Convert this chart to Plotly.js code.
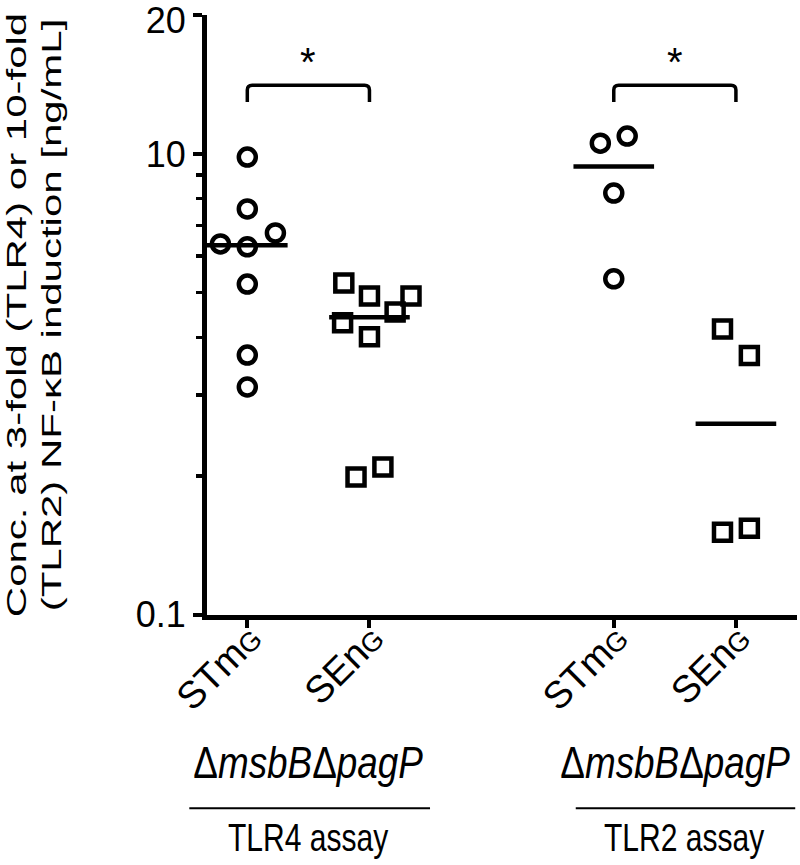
<!DOCTYPE html>
<html>
<head>
<meta charset="utf-8">
<script src="https://cdn.plot.ly/plotly-3.0.1.min.js"></script>
<style>
html,body{margin:0;padding:0;background:#fff;}
#chart{width:800px;height:865px;}
</style>
</head>
<body>
<div id="chart"></div>
<script>
// Group positions and labels
var groupPos = [1, 2, 4, 5];
var groupLabels = ["STm", "SEn", "STm", "SEn"];
var groupSuffix = ["G", "G", "G", "G"];

// Values (ng/mL)
var tlr4_STm = [9.85, 7.6, 6.74, 6.38, 6.29, 5.22, 3.66, 3.12];
var tlr4_STm_jit = [0, 0, 0.23, -0.22, 0, 0, 0, 0];
var tlr4_SEn = [5.25, 4.92, 4.92, 4.54, 4.30, 4.01, 2.09, 1.99];
var tlr4_SEn_jit = [-0.21, 0, 0.34, 0.21, -0.22, 0, 0.11, -0.11];
var tlr2_STm = [10.56, 10.94, 8.23, 5.36];
var tlr2_STm_jit = [-0.11, 0.11, 0, 0];
var tlr2_SEn = [4.17, 3.65, 1.51, 1.54];
var tlr2_SEn_jit = [-0.11, 0.11, -0.11, 0.11];

// y axis ticks
var yTickVals = [1, 10, 20];
var yTickText = ["0.1", "10", "20"];
var yMinorVals = [2, 3, 4, 5, 6, 7, 8, 9];

var series = [
  {v: tlr4_STm, j: tlr4_STm_jit, sym: "circle-open"},
  {v: tlr4_SEn, j: tlr4_SEn_jit, sym: "square-open"},
  {v: tlr2_STm, j: tlr2_STm_jit, sym: "circle-open"},
  {v: tlr2_SEn, j: tlr2_SEn_jit, sym: "square-open"}
];

function median(a){
  var s = a.slice().sort(function(p,q){return p-q;});
  var n = s.length;
  return n % 2 ? s[(n-1)/2] : (s[n/2-1] + s[n/2]) / 2;
}

var traces = [];
series.forEach(function(s, i){
  traces.push({
    type: "scatter", mode: "markers",
    x: s.v.map(function(_, k){ return groupPos[i] + s.j[k]; }),
    y: s.v,
    marker: {symbol: s.sym, size: 17, color: "#000",
             line: {width: 4.5, color: "#000"}},
    hoverinfo: "y", showlegend: false
  });
  var m = median(s.v);
  traces.push({
    type: "scatter", mode: "lines",
    x: [groupPos[i] - 0.33, groupPos[i] + 0.33],
    y: [m, m],
    line: {color: "#000", width: 4.5},
    hoverinfo: "skip", showlegend: false
  });
});

var F = "Liberation Sans, Arial, sans-serif";
var tickText = groupLabels.map(function(l, i){
  return l + '<span style="font-size:27px">' + groupSuffix[i] + '</span>';
});

var shapes = [];
[[1, 2], [4, 5]].forEach(function(p){
  shapes.push({type: "path", xref: "x", yref: "paper",
    path: "M" + p[0] + ",0.855 L" + p[0] + ",0.875 Q" + p[0] + ",0.883 " + (p[0] + 0.04) + ",0.883 L" + (p[1] - 0.04) + ",0.883 Q" + p[1] + ",0.883 " + p[1] + ",0.875 L" + p[1] + ",0.855",
    line: {color: "#000", width: 3.5}});
});
shapes.push({type: "line", xref: "paper", yref: "paper", x0: -0.03, x1: 0.378, y0: -0.322, y1: -0.322, line: {color: "#000", width: 2}});
shapes.push({type: "line", xref: "paper", yref: "paper", x0: 0.625, x1: 0.997, y0: -0.322, y1: -0.322, line: {color: "#000", width: 2}});

var annotations = [
  {x: 1.5, y: 0.962, xref: "x", yref: "paper", text: "*", showarrow: false, font: {family: F, size: 40, color: "#000"}},
  {x: 4.5, y: 0.962, xref: "x", yref: "paper", text: "*", showarrow: false, font: {family: F, size: 40, color: "#000"}},
  {x: 1.5, y: -0.292, xref: "x", yref: "paper", text: "Δ<i>msbB</i>Δ<i>pagP</i>", showarrow: false, font: {family: F, size: 45, color: "#000"}},
  {x: 4.5, y: -0.292, xref: "x", yref: "paper", text: "Δ<i>msbB</i>Δ<i>pagP</i>", showarrow: false, font: {family: F, size: 45, color: "#000"}},
  {x: 1.5, y: -0.41, xref: "x", yref: "paper", text: "TLR4 assay", showarrow: false, font: {family: F, size: 39, color: "#000"}},
  {x: 4.58, y: -0.41, xref: "x", yref: "paper", text: "TLR2 assay", showarrow: false, font: {family: F, size: 39, color: "#000"}}
];

var layout = {
  width: 800, height: 865,
  margin: {l: 207, r: 3, t: 15, b: 250},
  paper_bgcolor: "#fff", plot_bgcolor: "#fff",
  font: {family: F, color: "#000"},
  xaxis: {
    range: [0.67, 5.5], showgrid: false, zeroline: false,
    showline: true, linecolor: "#000", linewidth: 5,
    ticks: "outside", ticklen: 8, tickwidth: 4, tickcolor: "#000",
    tickvals: groupPos, ticktext: tickText, tickangle: -45,
    tickfont: {family: F, size: 38, color: "#000"}
  },
  yaxis: {
    type: "log", range: [-0.001, Math.log10(20) + 0.001], showgrid: false, zeroline: false,
    showline: true, linecolor: "#000", linewidth: 5,
    ticks: "outside", ticklen: 9, tickwidth: 4, tickcolor: "#000",
    tickvals: yTickVals, ticktext: yTickText, ticklabeloverflow: "allow",
    tickfont: {family: F, size: 36, color: "#000"},
    minor: {tickvals: yMinorVals, ticks: "outside", ticklen: 6, tickwidth: 3.5, tickcolor: "#000"},
    title: {text: "Conc. at 3-fold (TLR4) or 10-fold<br>(TLR2) NF-κB induction [ng/mL]",
            font: {family: F, size: 42, color: "#000"}, standoff: 40}
  },
  shapes: shapes,
  annotations: annotations
};

// The reference lettering of the titles is horizontally condensed; squeeze those texts in screen x.
function condenseTexts(gd){
  var svg = gd.querySelector("svg.main-svg");
  var gr = gd.getBoundingClientRect();
  var texts = gd.querySelectorAll("text");
  Array.prototype.forEach.call(texts, function(t){
    var r = t.getBoundingClientRect();
    if (!r.width) return;
    var par = t.parentNode;
    var pcls = (par.getAttribute && par.getAttribute("class")) || "";
    var cls = t.getAttribute("class") || "";
    var old = t.getAttribute("transform") || "";
    var txt = (t.textContent || "").trim();
    if (pcls.indexOf("xtick") >= 0) {
      t.setAttribute("transform", "translate(3,-27) " + old);
      return;
    }
    if (pcls.indexOf("ytick") >= 0) {
      // keep the top label inside the picture
      if (r.top < gr.top) t.setAttribute("transform", "translate(0," + Math.ceil(gr.top - r.top) + ") " + old);
      return;
    }
    if (txt === "*") return;
    var sq, ax, target;
    if (cls.indexOf("ytitle") >= 0) { sq = 0.65; ax = r.left; target = gr.left + 1; }
    else if (txt.indexOf("assay") >= 0) { sq = 0.77; ax = (r.left + r.right) / 2; target = ax; }
    else { sq = 0.82; ax = (r.left + r.right) / 2; target = ax; }
    var inv = par.getScreenCTM().inverse();
    var pt = svg.createSVGPoint();
    pt.x = ax; pt.y = r.top;
    var p1 = pt.matrixTransform(inv);
    pt.x = target; pt.y = r.top;
    var p2 = pt.matrixTransform(inv);
    t.setAttribute("transform", "translate(" + p2.x + ",0) scale(" + sq + ",1) translate(" + (-p1.x) + ",0) " + old);
  });
}

Plotly.newPlot("chart", traces, layout, {displayModeBar: false, staticPlot: true}).then(condenseTexts);
</script>
</body>
</html>
